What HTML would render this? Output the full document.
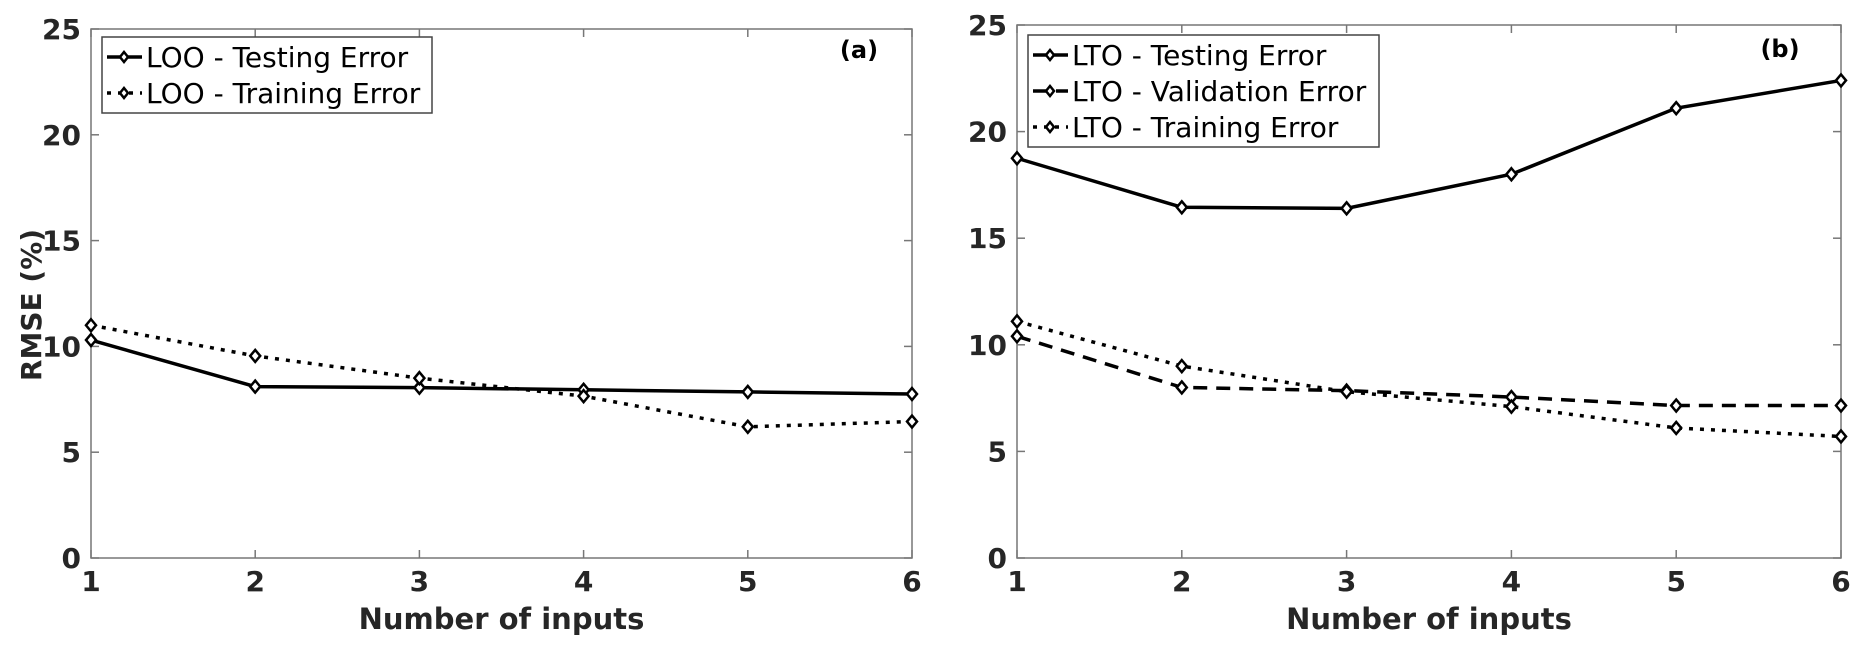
<!DOCTYPE html>
<html><head><meta charset="utf-8"><style>
body{margin:0;background:#fff;}
svg text{font-family:"DejaVu Sans","Liberation Sans",sans-serif;}
</style></head><body>
<svg id="c" width="1866" height="647" xmlns="http://www.w3.org/2000/svg"></svg>
<script>
const xCats=[1,2,3,4,5,6];
const yTicks=[0,5,10,15,20,25];
const looTesting=[10.3,8.1,8.05,7.95,7.85,7.75];
const looTraining=[11.0,9.55,8.5,7.65,6.2,6.45];
const ltoTesting=[18.75,16.45,16.4,18.0,21.1,22.4];
const ltoValidation=[10.4,8.0,7.85,7.55,7.15,7.15];
const ltoTraining=[11.1,9.0,7.8,7.1,6.1,5.7];
const legendA=["LOO - Testing Error","LOO - Training Error"];
const legendB=["LTO - Testing Error","LTO - Validation Error","LTO - Training Error"];

const NS="http://www.w3.org/2000/svg";
const svg=document.getElementById('c');
function mk(tag,attrs,parent){const e=document.createElementNS(NS,tag);for(const k in attrs)e.setAttribute(k,attrs[k]);(parent||svg).appendChild(e);return e;}
const dashes={solid:"",dashed:"14,9",dotted:"4,7"};

function panel(name,L,R,T,B,series,legend,tag,lg){
  const g=mk('g',{});
  
  
  const xs=v=>L+(v-1)/5*(R-L);
  const ys=v=>B-v/25*(B-T);
  const box=mk('rect',{x:L,y:T,width:R-L,height:B-T,fill:'none',stroke:'#777','stroke-width':1.5},g);
  
  
  xCats.forEach(c=>{
    const x=xs(c);
    mk('line',{x1:x,x2:x,y1:B,y2:B-8,stroke:'#777','stroke-width':1.5},g);
    mk('line',{x1:x,x2:x,y1:T,y2:T+8,stroke:'#777','stroke-width':1.5},g);
    const t=mk('text',{x:x,y:B+33,'text-anchor':'middle','font-size':28,'font-weight':'bold',fill:'#262626'},g);
    t.textContent=c;
    
    
  });
  yTicks.forEach(v=>{
    const y=ys(v);
    mk('line',{x1:L,x2:L+8,y1:y,y2:y,stroke:'#777','stroke-width':1.5},g);
    mk('line',{x1:R,x2:R-8,y1:y,y2:y,stroke:'#777','stroke-width':1.5},g);
    const t=mk('text',{x:L-10,y:y+10,'text-anchor':'end','font-size':28,'font-weight':'bold',fill:'#262626'},g);
    t.textContent=v;
    
    
  });
  series.forEach(s=>{
    const p=mk('polyline',{points:s.data.map((v,i)=>xs(xCats[i])+','+ys(v)).join(' '),fill:'none',stroke:'#000','stroke-width':3.5,'stroke-dasharray':dashes[s.style]},g);
    
    
    s.data.forEach((v,i)=>{
      const m=mk('path',{d:`M${xs(xCats[i])},${ys(v)-6}l5,6l-5,6l-5,-6z`,fill:'#fff',stroke:'#000','stroke-width':2.5},g);
      
      
    });
  });
  const xl=mk('text',{x:(L+R)/2,y:629,'text-anchor':'middle','font-size':29,'font-weight':'bold',fill:'#262626'},g);
  xl.textContent='Number of inputs';
  
  
  const tg=mk('text',{x:tag[0],y:tag[1],'text-anchor':'middle','font-size':24,'font-weight':'bold',fill:'#000'},g);
  tg.textContent=tag[2];
  
  
  const lgG=mk('g',{},g);
  
  
  mk('rect',{x:lg.x,y:lg.y,width:lg.w,height:legend.length*36+4,fill:'#fff',stroke:'#444','stroke-width':1.5},lgG);
  legend.forEach((lab,i)=>{
    const cy=lg.y+20+i*36;
    mk('line',{x1:lg.x+5,x2:lg.x+40,y1:cy,y2:cy,stroke:'#000','stroke-width':3.5,'stroke-dasharray':dashes[series[i].style]},lgG);
    mk('path',{d:`M${lg.x+22},${cy-5}l4,5l-4,5l-4,-5z`,fill:'#fff',stroke:'#000','stroke-width':2.5},lgG);
    const t=mk('text',{x:lg.x+44,y:cy+10,'font-size':28,fill:'#000'},lgG);
    t.textContent=lab;
    
    
  });
}
panel('panel-a',91,912,29,558,[
  {name:'loo-testing-line',data:looTesting,style:'solid'},
  {name:'loo-training-line',data:looTraining,style:'dotted'}],legendA,[859,58,'(a)'],{x:102,y:37,w:330});
panel('panel-b',1017,1841,25,558,[
  {name:'lto-testing-line',data:ltoTesting,style:'solid'},
  {name:'lto-validation-line',data:ltoValidation,style:'dashed'},
  {name:'lto-training-line',data:ltoTraining,style:'dotted'}],legendB,[1780,57,'(b)'],{x:1028,y:35,w:351});
const yl=mk('text',{x:0,y:0,transform:'translate(41,305) rotate(-90)','text-anchor':'middle','font-size':28,'font-weight':'bold',fill:'#262626'});
yl.textContent='RMSE (%)';


</script>
</body></html>
